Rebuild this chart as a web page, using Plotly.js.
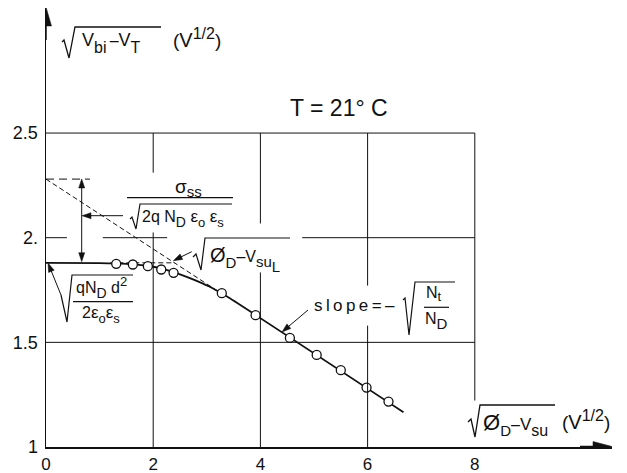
<!DOCTYPE html>
<html>
<head>
<meta charset="utf-8">
<script src="https://cdn.plot.ly/plotly-3.0.1.min.js"></script>
<style>
  body { margin: 0; background: #fff; }
  #myDiv { width: 627px; height: 473px; }
</style>
</head>
<body>
<div id="myDiv"></div>
<script>
// measured points (open circles)
var ptsX = [1.31, 1.62, 1.90, 2.15, 2.38, 3.28, 3.91, 4.55, 5.05, 5.50, 5.98, 6.39];
var ptsY = [1.875, 1.872, 1.864, 1.848, 1.832, 1.735, 1.630, 1.521, 1.440, 1.367, 1.284, 1.217];

// solid curve drawn through them
var fitX = [0, 1.0, 1.5, 1.9, 2.2, 2.5, 2.8, 3.1, 3.4, 6.67];
var fitY = [1.88, 1.879, 1.875, 1.866, 1.85, 1.825, 1.795, 1.76, 1.715, 1.166];

// dashed construction lines
var tangX = [0, 3.3];
var tangY = [2.28, 1.729];
var levelX = [1.2, 2.4];
var levelY = [1.88, 1.88];
var topX = [0, 0.82];
var topY = [2.28, 2.28];

var xTicks = [0, 2, 4, 6, 8];
var xTickText = ['0', '2', '4', '6', '8'];
var yTicks = [1, 1.5, 2, 2.5];
var yTickText = ['1', '1.5', '2.', '2.5'];

// plot box in pixels, used to place the drawing marks
var L = 46, T = 8, W = 566, H = 439;
var SX = 53.6, SY = 209.3;
var XMAX = W / SX, YMAX = 1 + H / SY;
function X(p) { return (p - L) / SX; }
function Y(p) { return 1 + (T + H - p) / SY; }
function P(px, py) { return X(px) + ',' + Y(py); }

var FONT = 'Liberation Sans, Arial, sans-serif';
var shapes = [];
var annotations = [];

function seg(x0, y0, x1, y1, w, dash) {
  shapes.push({type: 'line', xref: 'x', yref: 'y', x0: x0, y0: y0, x1: x1, y1: y1,
    line: {color: '#111', width: w, dash: dash || 'solid'}});
}
function path(pts, w) {
  var d = 'M ' + pts.map(function (p) { return P(p[0], p[1]); }).join(' L ');
  shapes.push({type: 'path', xref: 'x', yref: 'y', path: d, line: {color: '#111', width: w}});
}
function arrow(x0, y0, x1, y1, len, wid, w) {
  var dx = x1 - x0, dy = y1 - y0, d = Math.hypot(dx, dy);
  var ux = dx / d, uy = dy / d, nx = -uy, ny = ux;
  var bx = x1 - ux * len, by = y1 - uy * len;
  seg(X(x0), Y(y0), X(bx + ux), Y(by + uy), w);
  shapes.push({type: 'path', xref: 'x', yref: 'y',
    path: 'M ' + P(x1, y1) + ' L ' + P(bx + nx * wid / 2, by + ny * wid / 2) +
          ' L ' + P(bx - nx * wid / 2, by - ny * wid / 2) + ' Z',
    fillcolor: '#111', line: {color: '#111', width: 0.5}});
}
function label(txt, px, py, size, anchor) {
  annotations.push({xref: 'x', yref: 'y', x: X(px), y: Y(py), text: txt, showarrow: false,
    xanchor: anchor || 'left', yanchor: 'middle', font: {family: FONT, size: size, color: '#111'}});
}
// text piece with its own size, shifted down (positive) or up (negative)
function sp(t, size, shift) {
  return '<span style="font-size:' + size + 'px' +
    (shift ? ';baseline-shift:' + (-shift) + 'px' : '') + '">' + t + '</span>';
}
var unitText = sp('(', 19) + sp('V', 20) + sp('1/2', 16, -8) + sp(')', 19);

// grid, with the gaps left for the labels
seg(0, 2.5, 8, 2.5, 1);
seg(0, 1.5, 8, 1.5, 1);
seg(0, 2, 0.39, 2, 1);
seg(1.06, 2, 2.26, 2, 1);
seg(4.78, 2, 8, 2, 1);
seg(2, 2.311, 2, 2.5, 1); seg(2, 1, 2, 2.025, 1);
seg(4, 2.068, 4, 2.5, 1); seg(4, 1, 4, 1.834, 1);
seg(6, 1.771, 6, 2.5, 1); seg(6, 1, 6, 1.58, 1);
seg(8, 1.222, 8, 2.5, 1);

// axis arrow heads
arrow(46, 40, 46, 7, 19, 11, 1.5);
arrow(580, 446.5, 612, 446.5, 19, 10, 1.5);

// axis titles
path([[62, 42], [64, 40], [69, 58], [75, 27], [161, 27]], 1.3);
label(sp('V', 18) + sp('bi', 16, 7) + sp('\u2009–', 16) + sp('V', 18) + sp('T', 16, 7), 80, 43, 17);
label(unitText, 171, 38, 17);
path([[468, 422], [471, 419], [475, 437], [480, 405], [555, 405]], 1.3);
label(sp('Ø', 22) + sp('D', 15, 6) + sp('–', 16) + sp('V', 17) + sp('su', 16, 6), 481, 424, 17);
label(unitText, 560, 420, 17);

label('T = 21° C', 288, 108, 23);

// sigma_ss label
label(sp('σ', 19) + sp('ss', 15, 4), 188, 188, 17, 'center');
seg(X(127), Y(197.7), X(233), Y(197.7), 1.2);
path([[130, 219], [132, 217], [136, 229], [140, 204], [232, 204]], 1.2);
label(sp('2q', 16) + ' ' + sp('N', 16) + sp('D', 14, 5) + ' ' + sp('ε', 17) + sp('o', 13, 5) +
      ' ' + sp('ε', 17) + sp('s', 13, 5), 140, 218, 16);
arrow(123, 215.7, 82, 215.7, 9, 6, 1);
arrow(81.7, 220, 81.7, 179, 9, 6, 1);
arrow(81.7, 220, 81.7, 261.7, 9, 6, 1);

// sqrt(phiD - VsuL) label
path([[193, 257], [196, 254], [201, 270], [205, 238], [290, 238]], 1.2);
label(sp('Ø', 20) + sp('D', 15, 6) + sp('–', 16) + sp('V', 16) + sp('su', 15, 5) + sp('L', 15, 10), 208, 259, 16);
arrow(191.7, 251.7, 173.3, 260.7, 9, 6, 1);

// plateau label
arrow(61, 295, 48, 263, 9, 6, 1);
path([[61, 295], [67, 322], [72, 275], [133, 275]], 1.2);
label(sp('q', 16) + sp('N', 16) + sp('D', 14, 5) + ' ' + sp('d', 16) + sp('2', 13, -7), 101, 287, 16, 'center');
seg(X(73), Y(301.7), X(133), Y(301.7), 1.2);
label(sp('2', 16) + sp('ε', 17) + sp('o', 13, 5) + sp('ε', 17) + sp('s', 13, 5), 101, 314, 16, 'center');

// slope label
label('s\u2009l\u2009o\u2009p\u2009e\u2009=\u2009–', 312, 305, 17);
path([[403, 300], [405, 298], [409, 335], [415, 282], [455, 282]], 1.2);
label(sp('N', 16) + sp('t', 13, 3), 434, 294, 16, 'center');
seg(X(424), Y(307.3), X(449), Y(307.3), 1.2);
label(sp('N', 16) + sp('D', 15, 5), 436, 321, 16, 'center');
arrow(308, 310, 282, 332, 9, 6, 1);

var traces = [
  {x: topX, y: topY, mode: 'lines', line: {color: '#111', width: 1, dash: '8px,5px'}, hoverinfo: 'skip'},
  {x: tangX, y: tangY, mode: 'lines', line: {color: '#111', width: 1, dash: '5px,3px'}, hoverinfo: 'skip'},
  {x: levelX, y: levelY, mode: 'lines', line: {color: '#111', width: 1, dash: '5px,3px'}, hoverinfo: 'skip'},
  {x: fitX, y: fitY, mode: 'lines', line: {color: '#111', width: 1.8, shape: 'spline', smoothing: 0.6}, hoverinfo: 'skip'},
  {x: ptsX, y: ptsY, mode: 'markers', type: 'scatter',
    marker: {size: 9, color: '#fff', line: {color: '#111', width: 1.3}}}
];

var layout = {
  width: 627, height: 473,
  margin: {l: L, r: 627 - L - W, t: T, b: 473 - T - H, pad: 0},
  paper_bgcolor: '#fff', plot_bgcolor: '#fff',
  showlegend: false,
  font: {family: FONT, size: 17, color: '#111'},
  xaxis: {range: [0, XMAX], showgrid: false, zeroline: false, showline: true,
    linecolor: '#111', linewidth: 1.5, tickvals: xTicks, ticktext: xTickText,
    ticks: '', ticklabelstandoff: 1, tickfont: {family: FONT, size: 17}},
  yaxis: {range: [1, YMAX], showgrid: false, zeroline: false, showline: true,
    linecolor: '#111', linewidth: 1.5, tickvals: yTicks, ticktext: yTickText,
    ticks: '', ticklabelstandoff: 3, tickfont: {family: FONT, size: 18}},
  shapes: shapes,
  annotations: annotations
};

Plotly.newPlot('myDiv', traces, layout, {staticPlot: true});
</script>
</body>
</html>
